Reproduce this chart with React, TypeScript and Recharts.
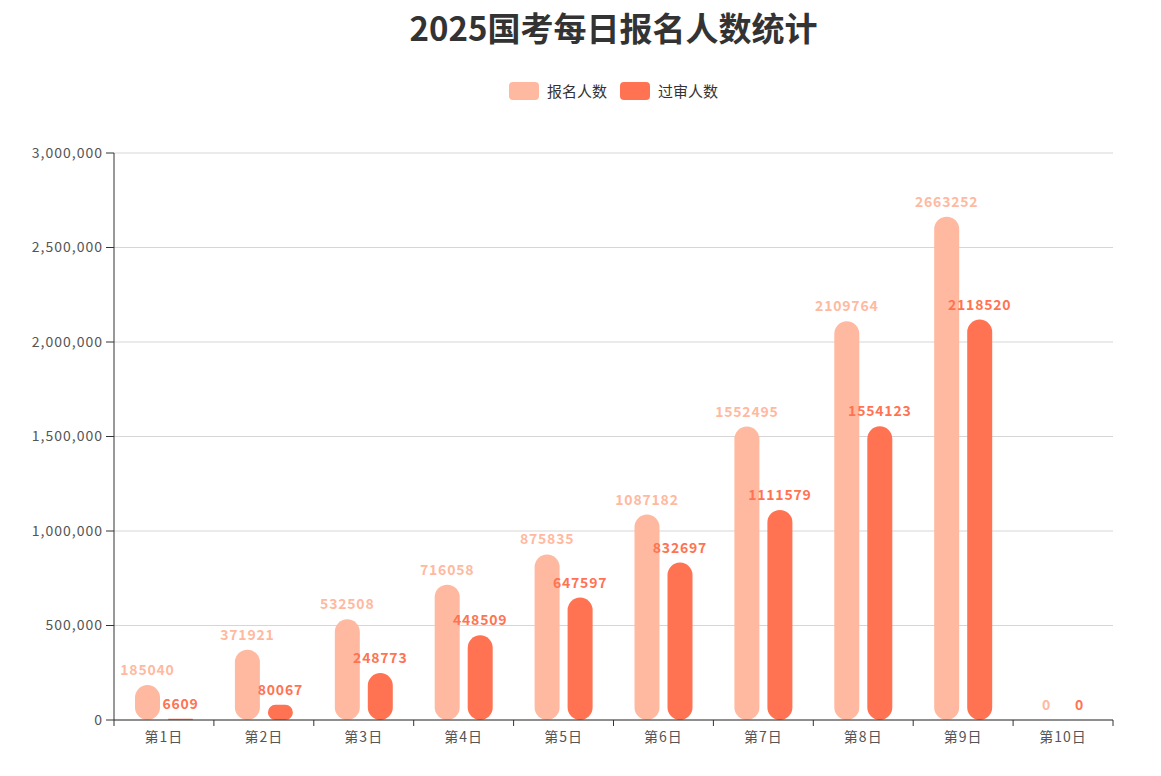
import { BarChart, Bar, XAxis, YAxis, CartesianGrid, LabelList } from "recharts";

const days = ["第1日", "第2日", "第3日", "第4日", "第5日", "第6日", "第7日", "第8日", "第9日", "第10日"];
const registered = [185040, 371921, 532508, 716058, 875835, 1087182, 1552495, 2109764, 2663252, 0];
const approved = [6609, 80067, 248773, 448509, 647597, 832697, 1111579, 1554123, 2118520, 0];
const yTicks = [0, 500000, 1000000, 1500000, 2000000, 2500000, 3000000];

const SERIES = [
  { key: "registered", name: "报名人数", color: "#ffb9a0" },
  { key: "approved", name: "过审人数", color: "#ff7352" },
];

const data = days.map((day, i) => ({
  day,
  registered: registered[i],
  approved: approved[i],
}));

const FONT = '"Noto Sans CJK SC", "Microsoft YaHei", sans-serif';
const AXIS_COLOR = "#333";

// x tick: label under the band, tick marks at the band edges
const DayTick = (props: any) => {
  const { x, y, payload, index } = props;
  const half = payload && payload.offset ? payload.offset : 50;
  const last = index === days.length - 1;
  return (
    <g>
      <line x1={x - half} y1={y - 8} x2={x - half} y2={y - 2} stroke={AXIS_COLOR} />
      {last && <line x1={x + half} y1={y - 8} x2={x + half} y2={y - 2} stroke={AXIS_COLOR} />}
      <text
        x={x}
        y={y + 14}
        textAnchor="middle"
        fill="#555"
        fontSize={14}
        letterSpacing={1}
        fontFamily={FONT}
      >
        {payload.value}
      </text>
    </g>
  );
};

export default function App() {
  return (
    <div style={{ position: "relative", width: 1145, height: 760, fontFamily: FONT }}>
      <div
        style={{
          position: "absolute",
          left: 106,
          width: 999,
          top: -3,
          textAlign: "center",
          fontSize: 33,
          fontWeight: 700,
          color: "#333",
          lineHeight: "44px",
        }}
      >
        2025国考每日报名人数统计
      </div>
      <div
        style={{
          position: "absolute",
          left: 106,
          width: 999,
          top: 72,
          display: "flex",
          justifyContent: "center",
          gap: 13,
          fontSize: 15,
          color: "#333",
        }}
      >
        {SERIES.map((s) => (
          <div key={s.key} style={{ display: "flex", alignItems: "center", gap: 8 }}>
            <span
              style={{ width: 30, height: 18, borderRadius: 4, background: s.color, display: "inline-block" }}
            />
            <span>{s.name}</span>
          </div>
        ))}
      </div>
      <BarChart
        width={1145}
        height={760}
        data={data}
        margin={{ top: 145, right: 40, left: 0, bottom: 8 }}
        barSize={25}
        barGap={8}
      >
        <CartesianGrid horizontal vertical={false} stroke="#d6d6d6" />
        <XAxis
          dataKey="day"
          height={40}
          stroke={AXIS_COLOR}
          tickLine={false}
          interval={0}
          tick={<DayTick />}
        />
        <YAxis
          width={106}
          domain={[0, 3000000]}
          ticks={yTicks}
          stroke={AXIS_COLOR}
          tickSize={8}
          tickMargin={3}
          tick={{ fill: "#555", fontSize: 14, fontFamily: FONT, letterSpacing: 1 }}
          tickFormatter={(v: number) => v.toLocaleString("en-US")}
        />
        {SERIES.map((s) => (
          <Bar
            key={s.key}
            dataKey={s.key}
            name={s.name}
            fill={s.color}
            radius={[12.5, 12.5, 12.5, 12.5]}
            minPointSize={0.01}
            isAnimationActive={false}
          >
            <LabelList
              dataKey={s.key}
              position="top"
              offset={10}
              fill={s.color}
              fontSize={14}
              fontWeight={700}
              letterSpacing={0.8}
              fontFamily={FONT}
            />
          </Bar>
        ))}
      </BarChart>
    </div>
  );
}
